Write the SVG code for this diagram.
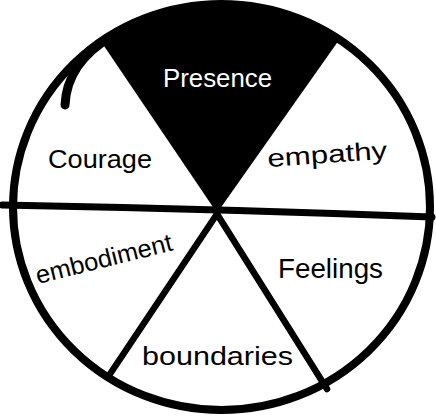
<svg xmlns="http://www.w3.org/2000/svg" width="436" height="420" viewBox="0 0 436 420">
<style>
.lbl{font-family:"Liberation Sans","Open Sans",sans-serif;font-size:25px;fill:#000;}
.ln{fill:none;stroke:#000;stroke-linecap:round;}
</style>
<rect width="436" height="420" fill="#fff"/>
<g id="presence">
<path d="M217 213 L102 43 A208.5 203 0 0 1 339 40 Z" fill="#000"/>
<text class="lbl" x="163" y="87" textLength="109" lengthAdjust="spacingAndGlyphs" style="fill:#fff">Presence</text>
</g>
<g id="connectors">
<ellipse class="ln" cx="221.5" cy="207" rx="208.5" ry="203" stroke-width="8"/>
<path class="ln" d="M65 105 C66 80 80 55 112 36" stroke-width="9"/>
<path class="ln" d="M2 205 Q220 209 432 217" stroke-width="7"/>
<path class="ln" d="M217 214 L108 377" stroke-width="6.5"/>
<path class="ln" d="M217 214 L327 389" stroke-width="6.5"/>
</g>
<g id="courage"><text class="lbl" x="48" y="168" textLength="104" lengthAdjust="spacingAndGlyphs">Courage</text></g>
<g id="empathy"><text class="lbl" x="268" y="167" textLength="120" lengthAdjust="spacingAndGlyphs" transform="rotate(-4 268 167)">empathy</text></g>
<g id="embodiment"><text class="lbl" x="38" y="284" textLength="140" lengthAdjust="spacingAndGlyphs" transform="rotate(-14 38 284)">embodiment</text></g>
<g id="feelings"><text class="lbl" x="278" y="278" textLength="105" lengthAdjust="spacingAndGlyphs" style="font-size:27px">Feelings</text></g>
<g id="boundaries"><text class="lbl" x="142" y="365" textLength="151" lengthAdjust="spacingAndGlyphs">boundaries</text></g>
</svg>
